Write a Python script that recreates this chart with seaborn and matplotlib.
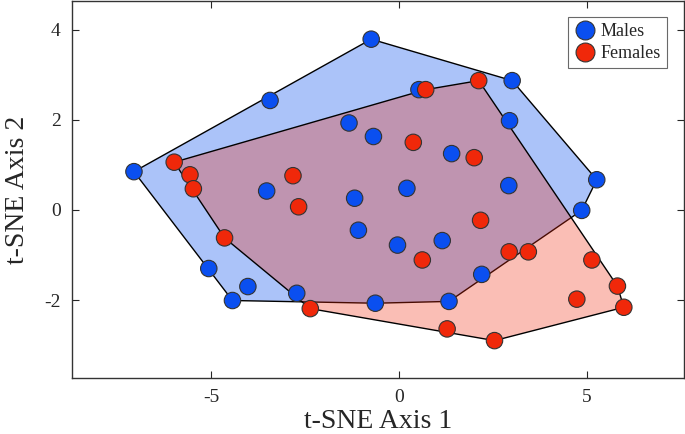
import numpy as np
import pandas as pd
import matplotlib
matplotlib.use("Agg")
import matplotlib.pyplot as plt
import seaborn as sns
from matplotlib.patches import Polygon

# ---- data ----
male_x = [-0.74, -3.43, -1.33, -0.68, -7.05, -3.52, -1.18, 0.53, 3.01, 2.94, 5.26, 1.40, 0.21,
          2.92, -1.08, -5.06, -4.02, -4.43, -2.72, -0.63, 4.86, -0.04, 1.15, 2.20, 1.33]
male_y = [3.79, 2.43, 1.93, 1.63, 0.85, 0.42, 0.26, 2.67, 2.87, 1.98, 0.67, 1.25, 0.48,
          0.54, -0.45, -1.30, -1.70, -2.01, -1.85, -2.07, -0.01, -0.78, -0.68, -1.43, -2.03]
female_x = [-5.98, -5.56, -5.47, -2.82, 0.71, 2.12, 0.38, 2.00, -2.67, -4.64, -2.36, 2.17,
            0.62, 2.93, 3.44, 5.13, 5.81, 4.73, 5.98, 1.28, 2.54]
female_y = [1.06, 0.78, 0.47, 0.76, 2.67, 2.87, 1.50, 1.16, 0.07, -0.62, -2.19, -0.23,
            -1.11, -0.93, -0.93, -1.11, -1.69, -1.98, -2.16, -2.64, -2.90]
groups = ["Males", "Females"]
x_ticks = [-5, 0, 5]
y_ticks = [-2, 0, 2, 4]

BLUE = "#0a4ff0"
RED = "#f0280a"


def convex_hull(px, py):
    pts = sorted(set(zip(px, py)))
    def cross(o, a, b):
        return (a[0] - o[0]) * (b[1] - o[1]) - (a[1] - o[1]) * (b[0] - o[0])
    lower = []
    for p in pts:
        while len(lower) >= 2 and cross(lower[-2], lower[-1], p) <= 0:
            lower.pop()
        lower.append(p)
    upper = []
    for p in reversed(pts):
        while len(upper) >= 2 and cross(upper[-2], upper[-1], p) <= 0:
            upper.pop()
        upper.append(p)
    return lower[:-1] + upper[:-1]


df = pd.DataFrame({
    "x": male_x + female_x,
    "y": male_y + female_y,
    "sex": [groups[0]] * len(male_x) + [groups[1]] * len(female_x),
})

sns.set_style("ticks")
plt.rcParams["font.family"] = ["Liberation Serif", "DejaVu Serif"]
plt.rcParams["axes.unicode_minus"] = False

fig = plt.figure(figsize=(6.85, 4.34), dpi=100)
ax = fig.add_axes([0.105, 0.129, 0.8935, 0.869])

hull_m = convex_hull(male_x, male_y)
hull_f = convex_hull(female_x, female_y)
ax.add_patch(Polygon(hull_m, closed=True, facecolor=BLUE, alpha=0.34, edgecolor="none", zorder=1))
ax.add_patch(Polygon(hull_m, closed=True, facecolor="none", edgecolor="black", lw=1.0, zorder=1.1))
ax.add_patch(Polygon(hull_f, closed=True, facecolor=RED, alpha=0.3, edgecolor="none", zorder=1.2))
ax.add_patch(Polygon(hull_f, closed=True, facecolor="none", edgecolor="black", lw=1.0, zorder=1.3))

sns.scatterplot(data=df, x="x", y="y", hue="sex", palette={"Males": BLUE, "Females": RED},
                s=140, edgecolor="#333333", linewidth=0.8, ax=ax, zorder=3)

ax.set_xlim(-8.7, 7.58)
ax.set_ylim(-3.73, 4.64)
ax.set_xticks(x_ticks)
ax.set_yticks(y_ticks)
ax.tick_params(direction="in", top=True, right=True, labelsize=14, length=5, width=0.8, pad=8)
for s in ax.spines.values():
    s.set_linewidth(1.0)
    s.set_color("#333333")
ax.set_xlabel("t-SNE Axis 1", fontsize=20, labelpad=2)
ax.set_ylabel("t-SNE Axis 2", fontsize=20, labelpad=10)

leg = ax.legend(loc="upper right", bbox_to_anchor=(0.972, 0.957), bbox_transform=ax.transAxes,
                fontsize=13, frameon=True, borderaxespad=0,
                fancybox=False, edgecolor="#444444", markerscale=1.15, handletextpad=0.25,
                borderpad=0.35, labelspacing=0.25, handlelength=1.2)
leg.get_frame().set_linewidth(0.8)

fig.savefig("out.png", dpi=100)
